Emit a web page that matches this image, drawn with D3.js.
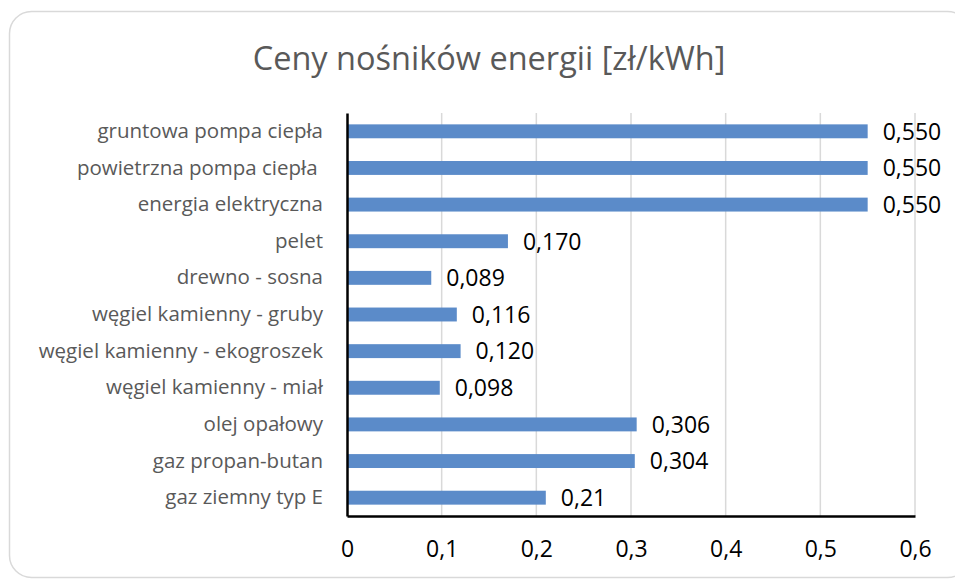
<!DOCTYPE html>
<html>
<head>
<meta charset="utf-8">
<script src="https://cdn.jsdelivr.net/npm/d3@7"></script>
<style>
  body { margin: 0; background: #fff; }
  svg text { font-family: "Open Sans", "Noto Sans", sans-serif; }
</style>
</head>
<body>
<div id="chart"></div>
<script>
// data, top to bottom as drawn
var categories = [
  'gruntowa pompa ciepła',
  'powietrzna pompa ciepła ',
  'energia elektryczna',
  'pelet',
  'drewno - sosna',
  'węgiel kamienny - gruby',
  'węgiel kamienny - ekogroszek',
  'węgiel kamienny - miał',
  'olej opałowy',
  'gaz propan-butan',
  'gaz ziemny typ E'
];
var prices = [0.550, 0.550, 0.550, 0.170, 0.089, 0.116, 0.120, 0.098, 0.306, 0.304, 0.21];
var priceLabels = ['0,550', '0,550', '0,550', '0,170', '0,089', '0,116', '0,120', '0,098', '0,306', '0,304', '0,21'];
var xTicks = [0, 0.1, 0.2, 0.3, 0.4, 0.5, 0.6];
var title = 'Ceny nośników energii [zł/kWh]';

var W = 955, H = 580,
    margin = { left: 347, right: 40, top: 113, bottom: 64 },
    iw = W - margin.left - margin.right,
    ih = H - margin.top - margin.bottom;

var svg = d3.select('#chart').append('svg')
    .attr('width', W)
    .attr('height', H);

// chart frame
svg.append('rect')
  .attr('x', 9.5).attr('y', 11.5)
  .attr('width', 960).attr('height', 566)
  .attr('rx', 22).attr('ry', 22)
  .attr('fill', '#fff')
  .attr('stroke', '#d9d9d9')
  .attr('stroke-width', 1.5);

svg.append('text')
  .attr('x', 489).attr('y', 70)
  .attr('text-anchor', 'middle')
  .attr('fill', '#595959')
  .style('font-size', '32.5px')
  .text(title);

var g = svg.append('g').attr('transform', 'translate(' + margin.left + ',' + margin.top + ')');

var x = d3.scaleLinear().domain([0, 0.6]).range([0, iw]);
var y = d3.scaleBand().domain(categories).range([0, ih]).paddingInner(0.62).paddingOuter(0.31);

// vertical grid
g.append('g')
  .selectAll('line')
  .data(xTicks.slice(1))
  .enter().append('line')
  .attr('x1', function(d) { return x(d); })
  .attr('x2', function(d) { return x(d); })
  .attr('y1', 0).attr('y2', ih)
  .attr('stroke', '#d9d9d9')
  .attr('stroke-width', 1.5);

// bars
g.append('g')
  .selectAll('rect')
  .data(prices)
  .enter().append('rect')
  .attr('x', 0)
  .attr('y', function(d, i) { return y(categories[i]); })
  .attr('width', function(d) { return x(d); })
  .attr('height', y.bandwidth())
  .attr('fill', '#5b8bc9');

// value labels
g.append('g')
  .selectAll('text')
  .data(prices)
  .enter().append('text')
  .attr('x', function(d) { return x(d) + 15; })
  .attr('y', function(d, i) { return y(categories[i]) + y.bandwidth() / 2; })
  .attr('dy', '0.36em')
  .attr('fill', '#000')
  .style('font-size', '23px')
  .text(function(d, i) { return priceLabels[i]; });

// x axis
var xAxis = g.append('g')
  .attr('transform', 'translate(0,' + ih + ')')
  .call(d3.axisBottom(x).tickValues(xTicks).tickSize(0).tickPadding(25)
    .tickFormat(function(d) { return String(d).replace('.', ','); }));
xAxis.select('.domain').attr('stroke', '#000').attr('stroke-width', 2.5);
xAxis.selectAll('text').attr('fill', '#000').style('font-size', '23px');

// y axis (keep the trailing space of one label, as in the source sheet)
var yAxis = g.append('g')
  .call(d3.axisLeft(y).tickSize(0).tickPadding(24));
yAxis.select('.domain').attr('stroke', '#000').attr('stroke-width', 2.5);
yAxis.selectAll('text')
  .attr('fill', '#595959')
  .style('font-size', '20.5px')
  .style('white-space', 'pre');
</script>
</body>
</html>
